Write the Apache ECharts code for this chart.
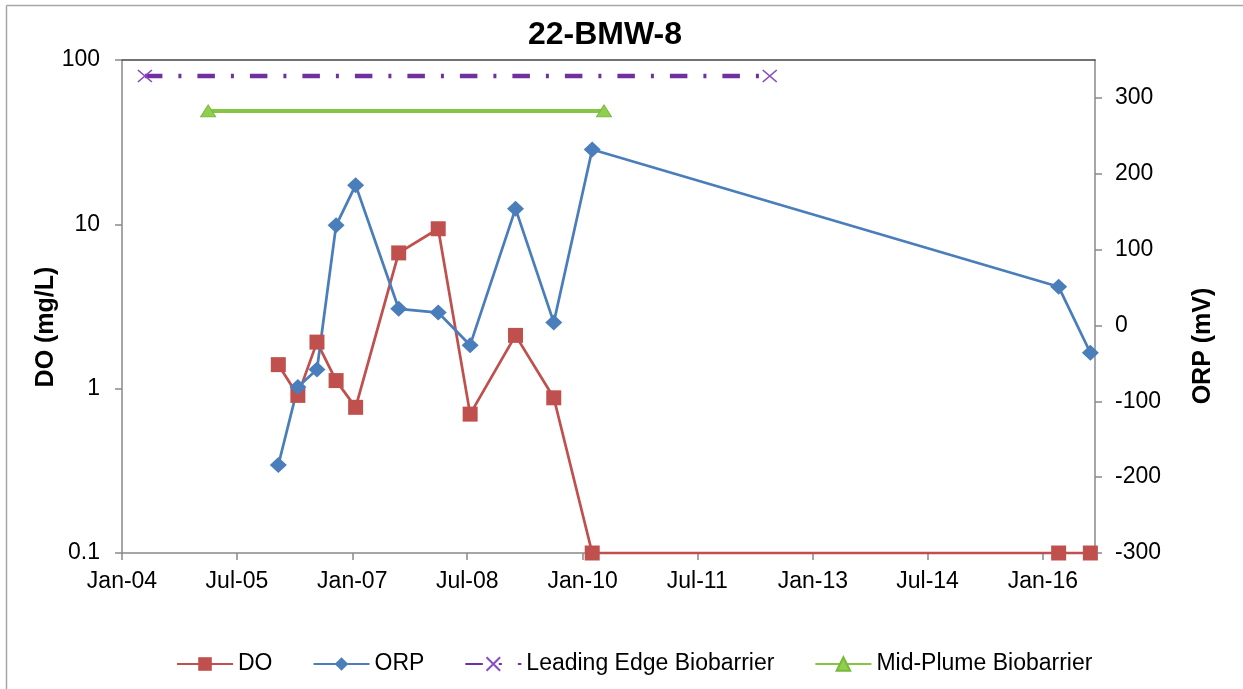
<!DOCTYPE html>
<html>
<head>
<meta charset="utf-8">
<script src="https://cdn.jsdelivr.net/npm/echarts@6/dist/echarts.min.js"></script>
<style>
  html, body { margin: 0; padding: 0; background: #fff; }
  #chart { width: 1243px; height: 689px; }
</style>
</head>
<body>
<div id="chart"></div>
<script>
// ---- data ----
const chartTitle = '22-BMW-8';
const sampleDates = ['2006-01-14','2006-04-17','2006-07-17','2006-10-16','2007-01-17','2007-08-10',
                     '2008-02-14','2008-07-15','2009-02-16','2009-08-17','2010-02-16','2016-03-16','2016-08-14'];
const doValues  = [1.40, 0.91, 1.92, 1.12, 0.77, 6.7, 9.4, 0.70, 2.11, 0.88, 0.1, 0.1, 0.1];
const orpValues = [-184, -81, -58, 132, 185, 22, 17, -26, 154, 4, 232, 51, -36];
const leadingEdgeDates  = ['2004-04-19', '2012-06-10'];
const leadingEdgeValues = [80, 80];
const midPlumeDates  = ['2005-02-14', '2010-04-13'];
const midPlumeValues = [49, 49];
const xTickLabels = ['Jan-04','Jul-05','Jan-07','Jul-08','Jan-10','Jul-11','Jan-13','Jul-14','Jan-16'];
const xAxisStart = '2004-01-01';
const xAxisEnd   = '2016-09-05';
const doTickLabels  = [0.1, 1, 10, 100];
const orpTickLabels = [-300, -200, -100, 0, 100, 200, 300];
const orpMin = -300, orpMax = 350;

// ---- helpers ----
function toMs(s) { const p = s.split('-').map(Number); return Date.UTC(p[0], p[1] - 1, p[2]); }
const monthNames = ['Jan','Feb','Mar','Apr','May','Jun','Jul','Aug','Sep','Oct','Nov','Dec'];
function labelToMs(l) { const [m, y] = l.split('-'); return Date.UTC(2000 + Number(y), monthNames.indexOf(m), 1); }
const xTickValues = xTickLabels.map(labelToMs);
function zip(dates, vals) { return dates.map((d, i) => [toMs(d), vals[i]]); }

const FONT = "'Liberation Sans', Arial, sans-serif";
const axisGray = '#898989';
const xPath = 'path://M0,0L10,10M10,0L0,10';

const chart = echarts.init(document.getElementById('chart'), null, { renderer: 'canvas' });
chart.setOption({
  animation: false,
  backgroundColor: '#fff',
  textStyle: { fontFamily: FONT },
  grid: { left: 122, right: 148, top: 60, bottom: 136, containLabel: false, outerBoundsMode: 'none' },
  graphic: [
    { type: 'line', shape: { x1: 6.5, y1: 5.5, x2: 1243, y2: 5.5 }, style: { stroke: '#a6a6a6', lineWidth: 1.5 }, silent: true },
    { type: 'line', shape: { x1: 6.5, y1: 5.5, x2: 6.5, y2: 689 }, style: { stroke: '#a6a6a6', lineWidth: 1.5 }, silent: true },
    { type: 'text', x: 605, y: 35, style: { text: chartTitle, font: "bold 32px " + FONT, fill: '#000', align: 'center', verticalAlign: 'middle' } },
    { type: 'text', x: 46, y: 327, rotation: Math.PI / 2, style: { text: 'DO (mg/L)', font: "bold 25px " + FONT, fill: '#000', align: 'center', verticalAlign: 'middle' } },
    { type: 'text', x: 1203, y: 346, rotation: Math.PI / 2, style: { text: 'ORP (mV)', font: "bold 25px " + FONT, fill: '#000', align: 'center', verticalAlign: 'middle' } }
  ],
  legend: {
    left: 171, top: 646,
    itemWidth: 56, itemHeight: 17, itemGap: 40,
    textStyle: { fontSize: 23, fontFamily: FONT, color: '#000', lineHeight: 26 },
    data: ['DO', 'ORP', 'Leading Edge Biobarrier', 'Mid-Plume Biobarrier']
  },
  xAxis: [
    {
      type: 'value', position: 'bottom',
      min: toMs(xAxisStart), max: toMs(xAxisEnd),
      splitLine: { show: false },
      axisLine: { show: true, onZero: false, lineStyle: { color: axisGray, width: 1.5 } },
      axisTick: { show: true, inside: false, length: 7, lineStyle: { color: axisGray, width: 1.5 }, customValues: xTickValues },
      axisLabel: {
        customValues: xTickValues, margin: 17, fontSize: 23, color: '#000', fontFamily: FONT,
        formatter: v => { const i = xTickValues.indexOf(v); return i >= 0 ? xTickLabels[i] : ''; }
      }
    },
    {
      type: 'value', position: 'top',
      min: toMs(xAxisStart), max: toMs(xAxisEnd),
      splitLine: { show: false },
      axisLine: { show: true, onZero: false, lineStyle: { color: '#444', width: 1.5 } },
      axisTick: { show: false }, axisLabel: { show: false }
    }
  ],
  yAxis: [
    {
      type: 'log', logBase: 10, min: 0.1, max: 100, position: 'left',
      splitLine: { show: false },
      axisLine: { show: true, onZero: false, lineStyle: { color: axisGray, width: 1.5 } },
      axisTick: { show: true, length: 7, lineStyle: { color: axisGray, width: 1.5 }, customValues: doTickLabels },
      axisLabel: {
        customValues: doTickLabels, margin: 22, fontSize: 23, color: '#000', fontFamily: FONT,
        formatter: v => String(Number(Number(v).toPrecision(3)))
      }
    },
    {
      type: 'value', min: orpMin, max: orpMax, position: 'right',
      splitLine: { show: false },
      axisLine: { show: true, onZero: false, lineStyle: { color: axisGray, width: 1.5 } },
      axisTick: { show: true, length: 7, lineStyle: { color: axisGray, width: 1.5 }, customValues: orpTickLabels },
      axisLabel: { customValues: orpTickLabels, margin: 20, fontSize: 23, color: '#000', fontFamily: FONT }
    }
  ],
  series: [
    {
      name: 'DO', type: 'line', xAxisIndex: 0, yAxisIndex: 0,
      data: zip(sampleDates, doValues),
      symbol: 'rect', symbolSize: 15,
      lineStyle: { color: '#c0504d', width: 2.75 },
      itemStyle: { color: '#c0504d' }
    },
    {
      name: 'ORP', type: 'line', xAxisIndex: 0, yAxisIndex: 1,
      data: zip(sampleDates, orpValues),
      symbol: 'diamond', symbolSize: [17, 16],
      lineStyle: { color: '#4a7ebb', width: 2.75 },
      itemStyle: { color: '#4a7ebb' }
    },
    {
      name: 'Leading Edge Biobarrier', type: 'line', xAxisIndex: 0, yAxisIndex: 0,
      data: zip(leadingEdgeDates, leadingEdgeValues),
      symbol: xPath, symbolSize: [14, 12],
      lineStyle: { color: '#7030a0', width: 4.5, type: [17.5, 16, 3, 16], cap: 'butt' },
      itemStyle: { color: '#7030a0', borderColor: '#8a4cc0', borderWidth: 1.5 }
    },
    {
      name: 'Mid-Plume Biobarrier', type: 'line', xAxisIndex: 0, yAxisIndex: 0,
      data: zip(midPlumeDates, midPlumeValues),
      symbol: 'triangle', symbolSize: [15, 12],
      lineStyle: { color: '#86c443', width: 4 },
      itemStyle: { color: '#8fcf4f', borderColor: '#7ab83a', borderWidth: 1 }
    }
  ]
});
</script>
</body>
</html>
